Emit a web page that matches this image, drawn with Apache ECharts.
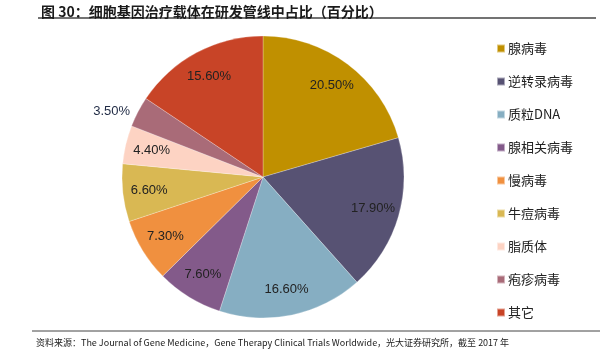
<!DOCTYPE html>
<html>
<head>
<meta charset="utf-8">
<script src="https://cdn.jsdelivr.net/npm/echarts@6/dist/echarts.min.js"></script>
<style>
  html, body { margin: 0; padding: 0; background: #fff; }
  #chartsdiv { width: 612px; height: 352px; }
</style>
</head>
<body>
<div id="chartsdiv"></div>
<script>
// 数据
var names = ['腺病毒', '逆转录病毒', '质粒DNA', '腺相关病毒', '慢病毒', '牛痘病毒', '脂质体', '疱疹病毒', '其它'];
var values = [20.5, 17.9, 16.6, 7.6, 7.3, 6.6, 4.4, 3.5, 15.6];
var colors = ['#C09000', '#575273', '#86AEC2', '#835A8A', '#F0903F', '#D9B853', '#FDD3C3', '#A96B78', '#C84427'];

var myChart = echarts.init(document.getElementById('chartsdiv'));

var pieData = [];
var labelData = [];
for (var i = 0; i < names.length; i++) {
    pieData.push({
        name: names[i],
        value: values[i],
        itemStyle: { color: colors[i] },
        // 疱疹病毒的标签放在外面
        label: { show: i === 7 }
    });
    labelData.push({
        name: names[i],
        value: values[i],
        label: { show: i !== 7 }
    });
}

var option = {
    animation: false,
    title: [{
        text: '图 30：细胞基因治疗载体在研发管线中占比（百分比）',
        left: 36,
        top: 0,
        textStyle: { fontFamily: 'Noto Sans CJK SC', fontSize: 14, fontWeight: 'bold', color: '#1a1a1a' }
    }, {
        text: '资料来源：The Journal of Gene Medicine，Gene Therapy Clinical Trials Worldwide，光大证券研究所，截至 2017 年',
        left: 31,
        top: 333,
        textStyle: { fontFamily: 'Noto Sans CJK SC', fontSize: 9, fontWeight: 'normal', color: '#1a1a1a' }
    }],
    graphic: [
        { type: 'line', shape: { x1: 38, y1: 18, x2: 596, y2: 18 }, style: { stroke: '#444', lineWidth: 1.5 } },
        { type: 'line', shape: { x1: 32, y1: 331, x2: 600, y2: 331 }, style: { stroke: '#444', lineWidth: 1 } }
    ],
    legend: {
        data: names,
        orient: 'vertical',
        left: 491,
        top: 37,
        itemWidth: 8,
        itemHeight: 8,
        itemGap: 20,
        icon: 'rect',
        textStyle: { fontFamily: 'Noto Sans CJK SC', fontSize: 13, color: '#222', padding: [0, 0, 0, -2] }
    },
    series: [{
        name: '占比',
        type: 'pie',
        center: [263, 177],
        radius: 141,
        startAngle: 90,
        clockwise: true,
        itemStyle: { borderColor: 'rgba(255,255,255,0.5)', borderWidth: 0.5 },
        label: {
            position: 'outside',
            formatter: function (p) { return p.value.toFixed(2) + '%'; },
            fontFamily: 'Liberation Sans',
            fontSize: 13,
            color: '#1f2a44'
        },
        labelLine: { show: false, length: 1, length2: 2 },
        data: pieData
    }, {
        // 只用来放扇区内部的标签
        name: '标签',
        type: 'pie',
        silent: true,
        center: [263, 177],
        radius: [82, 141],
        startAngle: 90,
        clockwise: true,
        itemStyle: { color: 'rgba(0,0,0,0)' },
        label: {
            position: 'inside',
            formatter: function (p) { return p.value.toFixed(2) + '%'; },
            fontFamily: 'Liberation Sans',
            fontSize: 13,
            color: '#222'
        },
        labelLine: { show: false },
        data: labelData
    }]
};

myChart.setOption(option);
</script>
</body>
</html>
